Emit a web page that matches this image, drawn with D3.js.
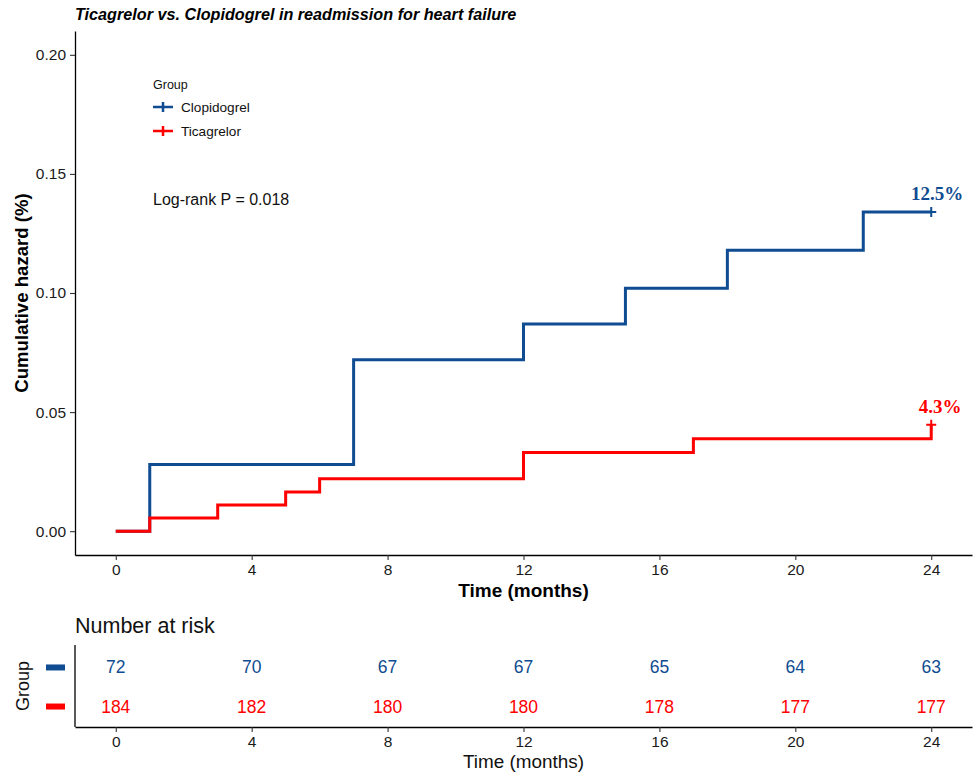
<!DOCTYPE html>
<html>
<head>
<meta charset="utf-8">
<script src="https://cdn.jsdelivr.net/npm/d3@7"></script>
<style>
  body { margin: 0; background: #fff; }
  svg text { font-family: Arial, "Liberation Sans", sans-serif; }
</style>
</head>
<body>
<div id="chart"></div>
<script>
// step data (time in months, cumulative hazard)
const groups = ["Clopidogrel", "Ticagrelor"];
const colors = ["#0F4C92", "#FF0000"];
const clopiTime = [0, 1, 7, 12, 15, 18, 22, 24];
const clopiHaz  = [0, 0.028, 0.072, 0.087, 0.102, 0.118, 0.134, 0.134];
const ticaTime  = [0, 1, 3, 5, 6, 12, 17, 24, 24];
const ticaHaz   = [0, 0.0055, 0.011, 0.0164, 0.022, 0.033, 0.0388, 0.0388, 0.0447];
const endLabels = ["12.5%", "4.3%"];
const riskTimes = [0, 4, 8, 12, 16, 20, 24];
const riskClopi = [72, 70, 67, 67, 65, 64, 63];
const riskTica  = [184, 182, 180, 180, 178, 177, 177];
const yTicks = [0, 0.05, 0.10, 0.15, 0.20];

const W = 978, H = 776;
const left = 75, right = 972;

const svg = d3.select("#chart").append("svg")
    .attr("width", W).attr("height", H);

// main panel
const top1 = 31, bottom1 = 555;
const x = d3.scaleLinear().domain([-1.2, 25.2]).range([left, right]);
const y = d3.scaleLinear().domain([-0.01, 0.21]).range([bottom1, top1]);

svg.append("text")
    .attr("x", left).attr("y", 20)
    .style("font-size", "16.2px").style("font-weight", "bold").style("font-style", "italic")
    .text("Ticagrelor vs. Clopidogrel in readmission for heart failure");

function styleAxis(a) {
    a.select(".domain").attr("stroke", "#000").attr("stroke-width", 1.3);
    a.selectAll(".tick line").attr("stroke", "#333").attr("stroke-width", 1.1);
    a.selectAll(".tick text").style("font-size", "15.5px").attr("fill", "#1a1a1a")
        .style("font-family", "Arial, 'Liberation Sans', sans-serif");
}

const xAxis = svg.append("g")
    .attr("transform", "translate(0," + bottom1 + ")")
    .call(d3.axisBottom(x).tickValues(riskTimes).tickSize(5).tickSizeOuter(0).tickPadding(4));
const yAxis = svg.append("g")
    .attr("transform", "translate(" + left + ",0)")
    .call(d3.axisLeft(y).tickValues(yTicks).tickFormat(d3.format(".2f")).tickSize(5).tickSizeOuter(0).tickPadding(4));
styleAxis(xAxis);
styleAxis(yAxis);

svg.append("text")
    .attr("x", (left + right) / 2).attr("y", 597)
    .attr("text-anchor", "middle")
    .style("font-size", "19px").style("font-weight", "bold")
    .text("Time (months)");

svg.append("text")
    .attr("transform", "translate(28," + (top1 + bottom1) / 2 + ") rotate(-90)")
    .attr("text-anchor", "middle")
    .style("font-size", "18.6px").style("font-weight", "bold")
    .text("Cumulative hazard (%)");

const line = d3.line()
    .x(function(d) { return x(d[0]); })
    .y(function(d) { return y(d[1]); })
    .curve(d3.curveStepAfter);

const series = [d3.zip(clopiTime, clopiHaz), d3.zip(ticaTime, ticaHaz)];

series.forEach(function(s, i) {
    svg.append("path")
        .datum(s)
        .attr("d", line)
        .attr("fill", "none")
        .attr("stroke", colors[i])
        .attr("stroke-width", 3);
    // censor mark at the end
    const last = s[s.length - 1];
    const cx = x(last[0]), cy = y(last[1]);
    svg.append("path")
        .attr("d", "M" + (cx - 5) + "," + cy + "H" + (cx + 5) + "M" + cx + "," + (cy - 5) + "V" + (cy + 5))
        .attr("stroke", colors[i]).attr("stroke-width", 2);
    svg.append("text")
        .attr("x", cx + 6 + i * 3).attr("y", cy - 12)
        .attr("text-anchor", "middle")
        .attr("fill", colors[i])
        .style("font-family", "'Liberation Serif', 'Times New Roman', serif")
        .style("font-size", "19px").style("font-weight", "bold")
        .text(endLabels[i]);
});

// legend
svg.append("text")
    .attr("x", 153).attr("y", 89)
    .style("font-size", "12.5px").attr("fill", "#111")
    .text("Group");
groups.forEach(function(g, i) {
    const ly = 107 + i * 24;
    svg.append("path")
        .attr("d", "M153," + ly + "H173M163," + (ly - 5) + "V" + (ly + 5))
        .attr("stroke", colors[i]).attr("stroke-width", 2.5);
    svg.append("text")
        .attr("x", 181).attr("y", ly + 5)
        .style("font-size", "13.6px").attr("fill", "#111")
        .text(g);
});

svg.append("text")
    .attr("x", 153).attr("y", 205)
    .style("font-size", "16px").attr("fill", "#111")
    .text("Log-rank P = 0.018");

// risk table
const top2 = 645, bottom2 = 727;
const yr = d3.scaleBand().domain(groups).range([top2, bottom2]).paddingOuter(0.05);

svg.append("text")
    .attr("x", left).attr("y", 633)
    .style("font-size", "21.5px").attr("fill", "#111")
    .text("Number at risk");

const xAxis2 = svg.append("g")
    .attr("transform", "translate(0," + bottom2 + ")")
    .call(d3.axisBottom(x).tickValues(riskTimes).tickSize(5).tickSizeOuter(0).tickPadding(4));
styleAxis(xAxis2);

svg.append("line")
    .attr("x1", left).attr("x2", left)
    .attr("y1", top2).attr("y2", bottom2)
    .attr("stroke", "#000").attr("stroke-width", 1.3);

[riskClopi, riskTica].forEach(function(r, i) {
    const cy = yr(groups[i]) + yr.bandwidth() / 2 + 1;
    svg.selectAll(null)
        .data(d3.zip(riskTimes, r))
        .enter().append("text")
        .attr("x", function(d) { return x(d[0]); })
        .attr("y", cy + 6)
        .attr("text-anchor", "middle")
        .attr("fill", colors[i])
        .style("font-size", "17.5px")
        .text(function(d) { return d[1]; });
    svg.append("rect")
        .attr("x", 46).attr("y", cy - 3)
        .attr("width", 19).attr("height", 6)
        .attr("fill", colors[i]);
});

svg.append("text")
    .attr("transform", "translate(29," + (top2 + bottom2) / 2 + ") rotate(-90)")
    .attr("text-anchor", "middle")
    .style("font-size", "18px").attr("fill", "#111")
    .text("Group");

svg.append("text")
    .attr("x", (left + right) / 2).attr("y", 768)
    .attr("text-anchor", "middle")
    .style("font-size", "18.9px").attr("fill", "#111")
    .text("Time (months)");
</script>
</body>
</html>
